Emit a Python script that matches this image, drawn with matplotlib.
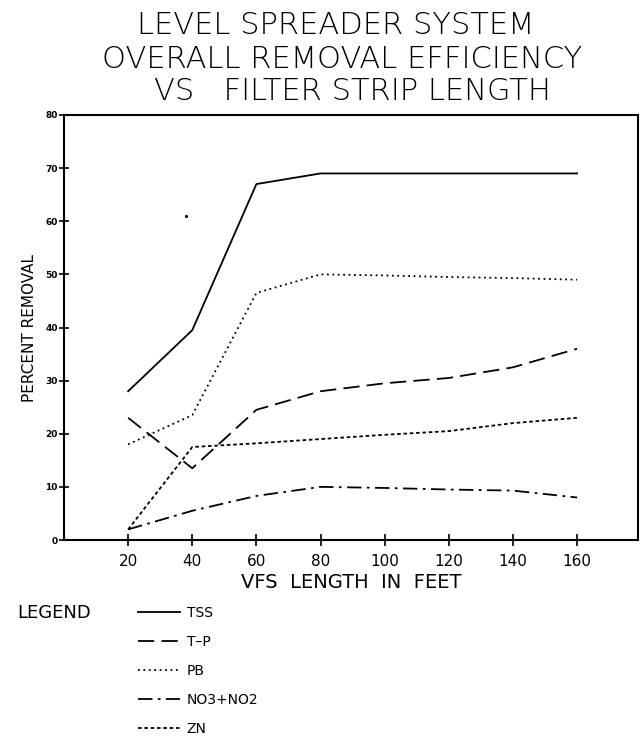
import matplotlib
matplotlib.use("Agg")
import matplotlib.pyplot as plt

plt.rcParams['font.family'] = ['DejaVu Sans']

# ---- data ----
lengths = [20, 40, 60, 80, 100, 120, 140, 160]
tss = [28, 39.5, 67, 69, 69, 69, 69, 69]
tp = [23, 13.5, 24.5, 28, 29.5, 30.5, 32.5, 36]
pb = [18, 23.5, 46.5, 50, 49.8, 49.5, 49.3, 49]
no3no2 = [2, 5.5, 8.3, 10, 9.8, 9.5, 9.3, 8]
zn = [2, 17.5, 18.2, 19, 19.8, 20.5, 22, 23]
speck_x = [38]
speck_y = [61]

xticks = [20, 40, 60, 80, 100, 120, 140, 160]
yticks = [0, 10, 20, 30, 40, 50, 60, 70, 80]
series_labels = ["TSS", "T\u2013P", "PB", "NO3+NO2", "ZN"]
title_lines = ["LEVEL SPREADER SYSTEM", "OVERALL REMOVAL EFFICIENCY", "VS   FILTER STRIP LENGTH"]

W, H = 644, 746
fig = plt.figure(figsize=(W / 100, H / 100), dpi=100)
ax = fig.add_axes([64 / W, 1 - 540 / H, 574 / W, 425 / H])

lw = 1.3
l1, = ax.plot(lengths, tss, color='black', lw=lw, linestyle='-')
l2, = ax.plot(lengths, tp, color='black', lw=lw, linestyle=(0, (9, 4)))
l3, = ax.plot(lengths, pb, color='black', lw=lw, linestyle=(0, (1, 2)))
l4, = ax.plot(lengths, no3no2, color='black', lw=lw, linestyle=(0, (8, 3, 1.5, 3)))
l5, = ax.plot(lengths, zn, color='black', lw=lw, linestyle=(0, (2, 1.5)))
ax.plot(speck_x, speck_y, 'k.', markersize=2.5)

ax.set_xlim(0, 179)
ax.set_ylim(0, 80)
ax.set_xticks(xticks)
ax.set_yticks(yticks)
ax.set_xticklabels([str(v) for v in xticks], fontsize=11)
ax.set_yticklabels([str(v) for v in yticks], fontsize=6.5, fontweight='bold')
ax.tick_params(axis='x', direction='inout', length=8, width=1.2, pad=6)
ax.tick_params(axis='y', direction='inout', length=7, width=1.2, pad=1)
for s in ax.spines.values():
    s.set_linewidth(1.5)

ax.set_xlabel("VFS  LENGTH  IN  FEET", fontsize=14, labelpad=3)
ax.set_ylabel("PERCENT REMOVAL", family=['Liberation Sans Narrow', 'DejaVu Sans'],
              fontsize=11, labelpad=6)

# title
ty = [25, 59, 92]
tx = [336, 342, 352]
for t, x, y in zip(title_lines, tx, ty):
    fig.text(x / W, 1 - y / H, t, ha='center', va='center', fontsize=22,
             fontweight='light')

# legend
fig.text(17 / W, 1 - 613 / H, "LEGEND", ha='left', va='center', fontsize=13)
ax.legend([l1, l2, l3, l4, l5], series_labels, loc='upper left',
          bbox_to_anchor=(138 / W, 1 - 606 / H), bbox_transform=fig.transFigure,
          frameon=False, fontsize=10, handlelength=3.0, handletextpad=0.5,
          labelspacing=1.08, borderpad=0, borderaxespad=0)

fig.savefig("out.png", dpi=100)
